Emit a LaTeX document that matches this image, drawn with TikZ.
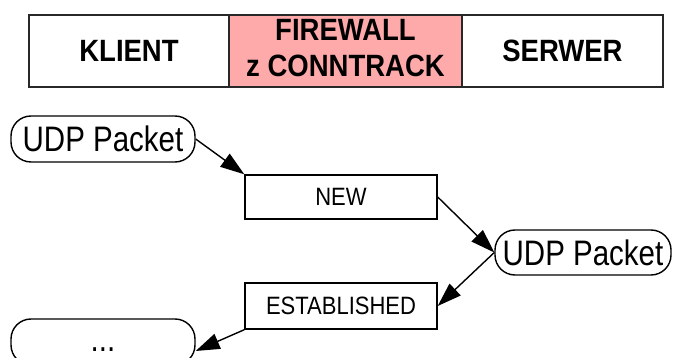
\documentclass[tikz,border=0pt]{standalone}
\usepackage{fontspec}
\setmainfont{Liberation Sans}
\usetikzlibrary{arrows.meta}
\definecolor{fwpink}{RGB}{255,170,170}
\definecolor{barline}{RGB}{40,40,40}
\newcommand{\vsc}[2]{\scalebox{1}[#1]{#2}}
\begin{document}
\begin{tikzpicture}[x=1pt,y=-1pt,
  cell/.style={draw=barline,line width=1.8pt,inner sep=0pt,minimum height=72pt,
    font=\fontsize{27.5}{32}\selectfont\bfseries},
  state/.style={draw,line width=1.4pt,inner sep=0pt,minimum width=192pt,
    font=\fontsize{22}{26}\selectfont},
  pkt/.style={draw,line width=1.4pt,rounded corners=20pt,inner sep=0pt,
    font=\fontsize{29.5}{34}\selectfont},
  flow/.style={line width=1.4pt,-{Triangle[length=24pt,width=16pt]}}]
\useasboundingbox (0,0) rectangle (673,358);
% top bar
\node[cell,minimum width=200pt] (klient) at (129,51) {\vsc{1.12}{KLIENT}};
\node[cell,minimum width=233pt,fill=fwpink] (fw) at (345.5,51)
  {\vsc{1.12}{\begin{tabular}{@{}c@{}}FIREWALL\\z CONNTRACK\end{tabular}}};
\node[cell,minimum width=201pt] (serwer) at (562.5,51) {\vsc{1.12}{SERWER}};
% flow
\node[pkt,minimum width=184pt,minimum height=46pt] (udp1) at (103,139) {\vsc{1.2}{UDP Packet}};
\node[state,minimum height=44pt] (new) at (341,197) {\vsc{1.14}{NEW}};
\node[pkt,minimum width=176pt,minimum height=45pt] (udp2) at (583,252.5) {\vsc{1.2}{UDP Packet}};
\node[state,minimum height=46pt] (est) at (341,306) {\vsc{1.14}{ESTABLISHED}};
\node[pkt,minimum width=184pt,minimum height=46pt] (dots) at (103,342) {\vsc{1.2}{\vphantom{x}...}};
\draw[flow] (udp1.east) -- (new.north west);
\draw[flow] (new.east) -- (udp2.west);
\draw[flow] (udp2.west) -- (est.east);
\draw[flow] (est.south west) -- ([yshift=-9pt]dots.east);
\end{tikzpicture}
\end{document}
